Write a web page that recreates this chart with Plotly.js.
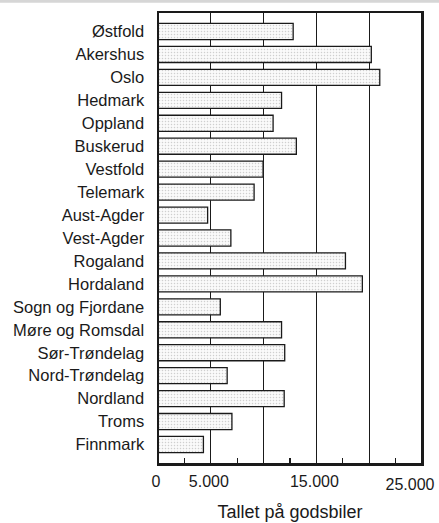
<!DOCTYPE html>
<html>
<head>
<meta charset="utf-8">
<script src="https://cdn.plot.ly/plotly-3.0.1.min.js"></script>
<style>html,body{margin:0;padding:0;background:#fff;}#chart{width:439px;height:523px;}</style>
</head>
<body>
<div id="chart"></div>
<script>
const counties = ["Østfold","Akershus","Oslo","Hedmark","Oppland","Buskerud","Vestfold","Telemark","Aust-Agder","Vest-Agder","Rogaland","Hordaland","Sogn og Fjordane","Møre og Romsdal","Sør-Trøndelag","Nord-Trøndelag","Nordland","Troms","Finnmark"];
const goodsVehicles = [12800,20200,21000,11700,10900,13100,9950,9100,4700,6900,17750,19350,5900,11700,12000,6550,11950,7000,4300];
const tickValues = [0,5000,10000,15000,20000,25000];
const tickLabels = ["0","5.000","","15.000","",""];
const lastTickValue = [25000];
const lastTickLabel = ["25.000"];
const minorTickValues = [2500,7500,12500,17500,22500];
const xTitle = "Tallet på godsbiler";

const font = "Liberation Sans, Arial, sans-serif";
const ink = "#1a1a1a";

const trace = {
  type: "bar",
  orientation: "h",
  y: counties,
  x: goodsVehicles,
  width: 0.7,
  marker: {
    color: "#f8f8f8",
    line: {color: ink, width: 1.3},
    pattern: {shape: ".", fgcolor: "#cfcfcf", bgcolor: "#fafafa", size: 3, solidity: 0.2}
  },
  hoverinfo: "x+y"
};

// empty helper trace so the overlaying axis (which only carries the last tick label) is drawn
const axisHelper = {type: "scatter", mode: "markers", x: [], y: [], xaxis: "x2", yaxis: "y", hoverinfo: "skip", showlegend: false};

const layout = {
  width: 439, height: 523,
  margin: {l: 158, r: 17, t: 12, b: 59},
  paper_bgcolor: "#fff", plot_bgcolor: "#fff",
  showlegend: false,
  font: {family: font, color: ink, size: 16},
  xaxis: {
    range: [0, 25000],
    tickmode: "array",
    tickvals: tickValues,
    ticktext: tickLabels,
    ticks: "",
    ticklabelshift: -2,
    ticklabelstandoff: 2,
    tickfont: {size: 16, family: font, color: ink},
    showgrid: true, gridcolor: ink, gridwidth: 1.2,
    zeroline: false,
    showline: true, linecolor: ink, linewidth: 1.5, mirror: true,
    minor: {tickmode: "array", tickvals: minorTickValues, ticks: "inside", ticklen: 6, tickcolor: ink, tickwidth: 1.2, showgrid: false},
    title: {text: xTitle, font: {size: 18, family: font, color: ink}, standoff: 16},
    fixedrange: true
  },
  xaxis2: {
    overlaying: "x", anchor: "y", side: "bottom",
    range: [0, 25000],
    tickmode: "array",
    tickvals: lastTickValue,
    ticktext: lastTickLabel,
    ticks: "",
    ticklabelshift: -12,
    ticklabelstandoff: 9,
    tickfont: {size: 16, family: font, color: ink},
    showgrid: false, zeroline: false, showline: false,
    fixedrange: true
  },
  yaxis: {
    type: "category",
    range: [18.85, -0.85],
    ticks: "",
    ticklabelstandoff: 9,
    tickfont: {size: 16.5, family: font, color: ink},
    showgrid: false, zeroline: false,
    showline: true, linecolor: ink, linewidth: 1.5, mirror: true,
    fixedrange: true
  },
  shapes: [
    {
      type: "rect", xref: "paper", yref: "paper",
      x0: -0.6, x1: 1.07, y0: 1.0205, y1: 1.03,
      fillcolor: "#d6d6d6", line: {width: 0}, layer: "below"
    },
    {
      type: "rect", xref: "paper", yref: "paper",
      x0: 0, x1: 1, y0: 0, y1: 1,
      line: {color: ink, width: 2}, layer: "above"
    }
  ]
};

Plotly.newPlot("chart", [trace, axisHelper], layout, {displayModeBar: false, staticPlot: true});
</script>
</body>
</html>
